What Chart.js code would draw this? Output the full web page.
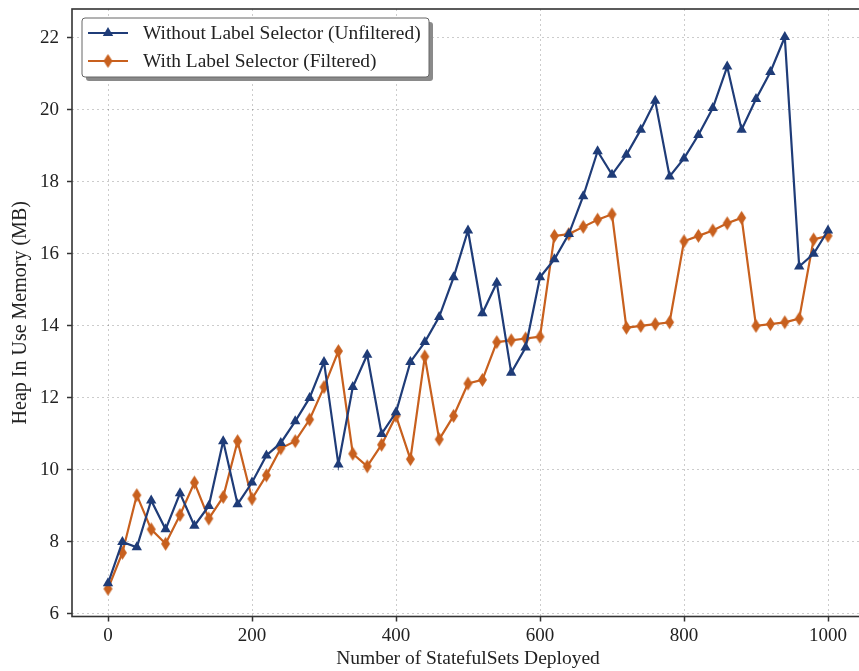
<!DOCTYPE html>
<html>
<head>
<meta charset="utf-8">
<title>Heap In Use Memory vs StatefulSets</title>
<script src="https://cdn.jsdelivr.net/npm/chart.js@4/dist/chart.umd.min.js"></script>
<style>
  html, body { margin: 0; padding: 0; background: #fff; overflow: hidden; }
  canvas { display: block; }
</style>
</head>
<body>
<canvas id="heap" width="866" height="671"></canvas>
<script>
// StatefulSets deployed (x) and heap usage in MB for each run
const statefulSets = [0, 20, 40, 60, 80, 100, 120, 140, 160, 180, 200, 220, 240, 260, 280, 300,
  320, 340, 360, 380, 400, 420, 440, 460, 480, 500, 520, 540, 560, 580, 600, 620, 640, 660,
  680, 700, 720, 740, 760, 780, 800, 820, 840, 860, 880, 900, 920, 940, 960, 980, 1000];

const unfiltered = [6.85, 8.0, 7.85, 9.15, 8.35, 9.35, 8.45, 9.0, 10.8, 9.05, 9.65, 10.4, 10.75,
  11.35, 12.0, 13.0, 10.15, 12.3, 13.2, 11.0, 11.6, 13.0, 13.55, 14.25, 15.35, 16.65, 14.35,
  15.2, 12.7, 13.4, 15.35, 15.85, 16.55, 17.6, 18.85, 18.2, 18.75, 19.45, 20.25, 18.15, 18.65,
  19.3, 20.05, 21.2, 19.45, 20.3, 21.05, 22.02, 15.65, 16.0, 16.65];

const filtered = [6.7, 7.7, 9.3, 8.35, 7.95, 8.75, 9.65, 8.65, 9.25, 10.8, 9.2, 9.85, 10.6,
  10.8, 11.4, 12.3, 13.3, 10.45, 10.1, 10.7, 11.5, 10.3, 13.15, 10.85, 11.5, 12.4, 12.5,
  13.55, 13.6, 13.65, 13.7, 16.5, 16.55, 16.75, 16.95, 17.1, 13.95, 14.0, 14.05, 14.1, 16.35,
  16.5, 16.65, 16.85, 17.0, 14.0, 14.05, 14.1, 14.2, 16.4, 16.5];

const xTicks = [0, 200, 400, 600, 800, 1000];
const yTicks = [6, 8, 10, 12, 14, 16, 18, 20, 22];

const seriesNames = ['Without Label Selector (Unfiltered)', 'With Label Selector (Filtered)'];

const BLUE = '#1f3c78';
const ORANGE = '#c8601e';
const FONT = '"Liberation Serif", "Times New Roman", serif';

// thin diamond marker (like matplotlib 'd')
function thinDiamond(color, w, h) {
  const c = document.createElement('canvas');
  c.width = w + 2;
  c.height = h + 2;
  const g = c.getContext('2d');
  g.fillStyle = color;
  g.beginPath();
  g.moveTo(c.width / 2, 1);
  g.lineTo(c.width - 1, c.height / 2);
  g.lineTo(c.width / 2, c.height - 1);
  g.lineTo(1, c.height / 2);
  g.closePath();
  g.fill();
  return c;
}
const diamondImg = thinDiamond(ORANGE, 9, 14);

function pairs(ys) {
  return ys.map((y, i) => ({ x: statefulSets[i], y: y }));
}

// fixed axis sizes, no extra room for overhanging tick labels
function fixedSize(prop, size) {
  return s => {
    s[prop] = size;
    s.paddingLeft = s.paddingRight = s.paddingTop = s.paddingBottom = 0;
  };
}

// axes frame drawn on all four sides
const frame = {
  id: 'frame',
  afterDatasetsDraw(chart) {
    const { ctx, chartArea: a } = chart;
    ctx.save();
    ctx.strokeStyle = '#333';
    ctx.lineWidth = 1.6;
    ctx.strokeRect(a.left, a.top, a.right - a.left, a.bottom - a.top);
    ctx.restore();
  }
};

// boxed legend with drop shadow in upper-left corner
const boxLegend = {
  id: 'boxLegend',
  afterDraw(chart) {
    const ctx = chart.ctx;
    const x = 82, y = 18, w = 347, h = 59;
    ctx.save();
    ctx.fillStyle = '#8a8a8a';
    ctx.beginPath();
    ctx.roundRect(x + 4, y + 4, w, h, 3);
    ctx.fill();
    ctx.fillStyle = '#fff';
    ctx.strokeStyle = '#666';
    ctx.lineWidth = 1;
    ctx.beginPath();
    ctx.roundRect(x, y, w, h, 3);
    ctx.fill();
    ctx.stroke();

    const rows = [
      { color: BLUE, marker: 'triangle', cy: 33 },
      { color: ORANGE, marker: 'diamond', cy: 61 }
    ];
    ctx.font = '19.4px ' + FONT;
    ctx.textBaseline = 'middle';
    rows.forEach((r, i) => {
      ctx.strokeStyle = r.color;
      ctx.lineWidth = 2.2;
      ctx.beginPath();
      ctx.moveTo(88, r.cy);
      ctx.lineTo(128, r.cy);
      ctx.stroke();
      ctx.fillStyle = r.color;
      if (r.marker === 'triangle') {
        ctx.beginPath();
        ctx.moveTo(108, r.cy - 6);
        ctx.lineTo(113.2, r.cy + 3);
        ctx.lineTo(102.8, r.cy + 3);
        ctx.closePath();
        ctx.fill();
      } else {
        ctx.drawImage(diamondImg, 108 - diamondImg.width / 2, r.cy - diamondImg.height / 2);
      }
      ctx.fillStyle = '#222';
      ctx.fillText(seriesNames[i], 143, r.cy + 1);
    });
    ctx.restore();
  }
};

const gridOpts = {
  color: 'rgba(0,0,0,0.2)',
  lineWidth: 1,
  drawTicks: true,
  tickLength: 5,
  tickColor: '#333',
  tickWidth: 1.5
};

new Chart(document.getElementById('heap'), {
  type: 'line',
  data: {
    datasets: [
      {
        label: seriesNames[0],
        data: pairs(unfiltered),
        borderColor: BLUE,
        backgroundColor: BLUE,
        borderWidth: 2.2,
        pointStyle: 'triangle',
        pointRadius: 6,
        pointBorderWidth: 0,
        tension: 0
      },
      {
        label: seriesNames[1],
        data: pairs(filtered),
        borderColor: ORANGE,
        backgroundColor: ORANGE,
        borderWidth: 2.2,
        pointStyle: diamondImg,
        pointRadius: 7,
        tension: 0
      }
    ]
  },
  options: {
    responsive: false,
    animation: false,
    layout: { autoPadding: false, padding: { top: 9, right: 2, left: 0, bottom: 0 } },
    plugins: {
      legend: { display: false },
      tooltip: { enabled: false }
    },
    scales: {
      x: {
        type: 'linear',
        min: -50,
        max: 1050,
        afterBuildTicks: s => { s.ticks = xTicks.map(v => ({ value: v })); },
        afterFit: fixedSize('height', 54.5),
        grid: gridOpts,
        border: { display: false, dash: [2, 3] },
        ticks: { color: '#222', padding: 3, font: { family: FONT, size: 19 }, callback: v => String(v) },
        title: {
          display: true,
          text: 'Number of StatefulSets Deployed',
          color: '#222',
          padding: { top: 0, bottom: 0 },
          font: { family: FONT, size: 19.5 }
        }
      },
      y: {
        min: 5.93,
        max: 22.8,
        afterBuildTicks: s => { s.ticks = yTicks.map(v => ({ value: v })); },
        afterFit: fixedSize('width', 72),
        grid: gridOpts,
        border: { display: false, dash: [2, 3] },
        ticks: { color: '#222', padding: 8, font: { family: FONT, size: 19 }, callback: v => String(v) },
        title: {
          display: true,
          text: 'Heap In Use Memory (MB)',
          color: '#222',
          padding: { top: 9, bottom: 0 },
          font: { family: FONT, size: 20 }
        }
      }
    }
  },
  plugins: [frame, boxLegend]
});
</script>
</body>
</html>
